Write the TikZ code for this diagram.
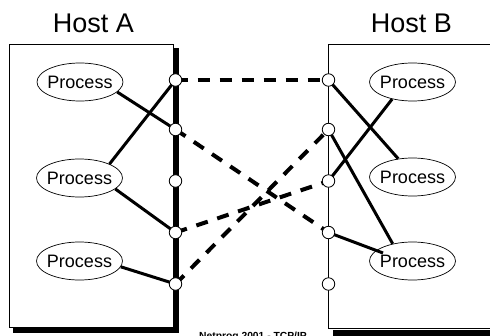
\documentclass[tikz,border=0pt]{standalone}
\usepackage{fontspec}
\setmainfont{Liberation Sans}
\usetikzlibrary{shapes.geometric,calc}
\pgfdeclarelayer{bg}
\pgfsetlayers{bg,main}
\begin{document}
\begin{tikzpicture}[x=1pt,y=-1pt,
  proc/.style={ellipse,draw,line width=0.7pt,minimum width=86pt,minimum height=38pt,inner sep=0pt,font=\fontsize{18}{18}\selectfont},
  port/.style={circle,draw,fill=white,line width=0.8pt,minimum size=12.5pt,inner sep=0pt},
  conn/.style={line width=3pt},
  link/.style={line width=4pt,dash pattern=on 12pt off 10pt},
  hostlabel/.style={font=\fontsize{27}{27}\selectfont,anchor=base,inner sep=0pt},
  hostbox/.style={line width=0.8pt},
  shade/.style={fill=black}]
\path[use as bounding box,clip] (0,0) rectangle (490,335);

% labels
\node[hostlabel] (hA) at (93.5,32.5) {Host A};
\node[hostlabel] (hB) at (411.5,32.5) {Host B};

% processes
\node[proc] (pa1) at (80,82) {\makebox[0pt]{Process}};
\node[proc] (pa2) at (79.5,178) {\makebox[0pt]{Process}};
\node[proc] (pa3) at (79.5,261) {\makebox[0pt]{Process}};
\node[proc] (pb1) at (412.5,82) {\makebox[0pt]{Process}};
\node[proc] (pb2) at (412.5,177) {\makebox[0pt]{Process}};
\node[proc] (pb3) at (412.5,261) {\makebox[0pt]{Process}};

% ports
\foreach \n/\y in {1/80,2/129.5,3/181,4/232.5,5/284}{
  \node[port] (a\n) at (175.5,\y) {};
  \node[port] (b\n) at (328.5,\y) {};
}

% footer
\node[font=\bfseries\fontsize{10.3}{10.3}\selectfont,anchor=base,inner sep=0pt] (foot) at (253,339.5) {Netprog 2001 - TCP/IP};

\begin{pgfonlayer}{bg}
  % host A
  \draw[hostbox] (9.5,44) rectangle (173,327);
  \fill[shade] (172.5,48) rectangle (178.5,333);
  \fill[shade] (13,328) rectangle (178.5,333);
  % host B
  \draw[hostbox] (495,44) -- (328.5,44) -- (328.5,328) -- (495,328);
  \fill[shade] (333,329.5) rectangle (495,336);

  % solid connectors
  \draw[conn] (pa1.-15) -- (a2.center);
  \draw[conn] (pa2.25) -- (a1.center);
  \draw[conn] (pa2.-17) -- (a4.center);
  \draw[conn] (pa3.-8) -- (a5.center);
  \draw[conn] (b1.center) -- (pb2.128);
  \draw[conn] (pb1.220) -- (b3.center);
  \draw[conn] (b2.center) -- (pb3.139);
  \draw[conn] (b4.center) -- ($(pb3.center)+(-29.5,-8)$);

  % dashed links
  \draw[link] (a1.center) -- (b1.center);
  \draw[link] (a2.center) -- (b4.center);
  \draw[link] (a4.center) -- (b3.center);
  \draw[link] (a5.center) -- (b2.center);
\end{pgfonlayer}
\end{tikzpicture}
\end{document}
